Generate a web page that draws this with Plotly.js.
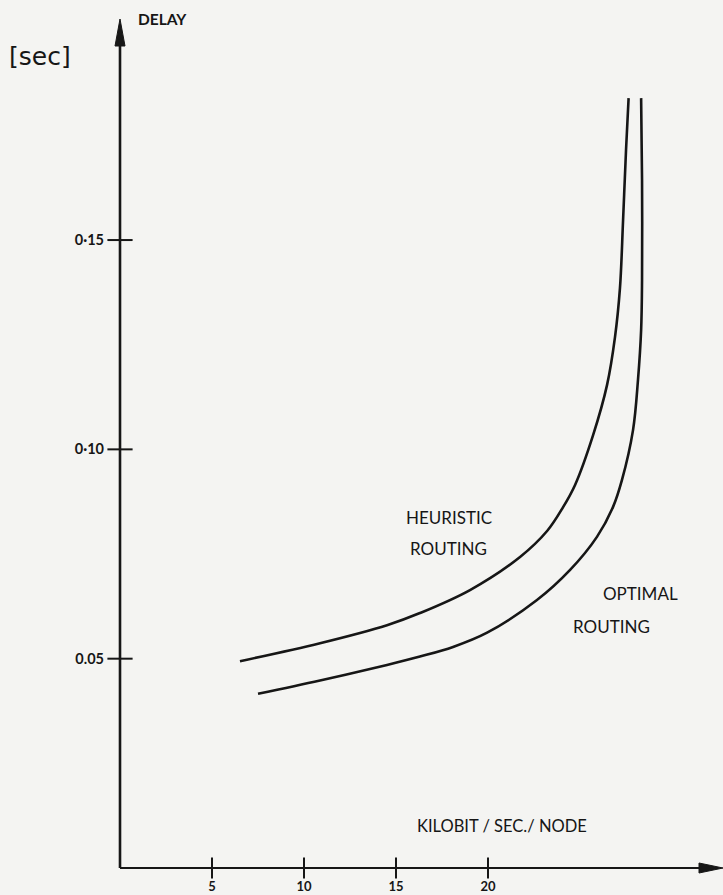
<!DOCTYPE html>
<html>
<head>
<meta charset="utf-8">
<script src="https://cdn.plot.ly/plotly-3.0.1.min.js"></script>
<style>
  html, body { margin: 0; padding: 0; background: #f4f4f2; }
  #chart { width: 723px; height: 895px; }
</style>
</head>
<body>
<div id="chart"></div>
<script>
// Heuristic routing curve (kilobit/sec/node, delay in sec)
const heuristicX = [6.52, 10.87, 14.51, 16.30, 19.02, 21.74, 23.21, 24.08, 24.73, 25.71, 26.47, 26.90, 27.17, 27.34, 27.50, 27.64];
const heuristicY = [0.0494, 0.0537, 0.0580, 0.0609, 0.0664, 0.0743, 0.0805, 0.0862, 0.0915, 0.1034, 0.1154, 0.1268, 0.1385, 0.1548, 0.1715, 0.1839];
// Optimal routing curve
const optimalX = [7.50, 10.87, 14.51, 16.30, 18.10, 19.95, 22.66, 24.46, 25.92, 26.79, 27.28, 27.88, 28.15, 28.32, 28.37, 28.37, 28.32];
const optimalY = [0.0416, 0.0448, 0.0485, 0.0505, 0.0528, 0.0562, 0.0640, 0.0712, 0.0791, 0.0862, 0.0927, 0.1046, 0.1166, 0.1285, 0.1404, 0.1643, 0.1839];
// Axis ticks
const xTickVals = [5, 10, 15, 20];
const xTickText = ["5", "10", "15", "20"];
const yTickVals = [0.05, 0.10, 0.15];
const yTickText = ["0.05", "0·10", "0·15"];

const ink = "#161616";
const xMax = 32.77, yMax = 0.2028;
const font = "Lato, 'Open Sans', sans-serif";

const traces = [
  { x: heuristicX, y: heuristicY, mode: "lines", line: { color: ink, width: 2.6, shape: "spline", smoothing: 1 }, hoverinfo: "skip" },
  { x: optimalX, y: optimalY, mode: "lines", line: { color: ink, width: 2.6, shape: "spline", smoothing: 1 }, hoverinfo: "skip" },
  { x: xTickVals, y: xTickVals.map(() => 0), mode: "markers", cliponaxis: false,
    marker: { symbol: "line-ns", size: 15, line: { color: ink, width: 2 } }, hoverinfo: "skip" },
  { x: yTickVals.map(() => 0), y: yTickVals, mode: "markers", cliponaxis: false,
    marker: { symbol: "line-ew", size: 18, line: { color: ink, width: 2 } }, hoverinfo: "skip" }
];

const layout = {
  width: 723, height: 895,
  margin: { l: 120, r: 0, t: 19, b: 27 },
  paper_bgcolor: "#f4f4f2", plot_bgcolor: "#f4f4f2",
  showlegend: false,
  font: { family: font, color: ink },
  xaxis: {
    range: [0, xMax], showgrid: false, zeroline: false, showline: false,
    tickmode: "array", tickvals: xTickVals, ticktext: xTickText, ticks: "",
    ticklabelstandoff: 9, tickfont: { size: 13, family: font, weight: "bold" }
  },
  yaxis: {
    range: [0, yMax], showgrid: false, zeroline: false, showline: false,
    tickmode: "array", tickvals: yTickVals, ticktext: yTickText, ticks: "",
    ticklabelstandoff: 15, tickfont: { size: 14.5, family: font, weight: "bold" }
  },
  shapes: [
    { type: "line", xref: "paper", yref: "paper", x0: 0, y0: 0, x1: 0.99, y1: 0, line: { color: ink, width: 2 } },
    { type: "line", xref: "paper", yref: "paper", x0: 0, y0: 0, x1: 0, y1: 0.98, line: { color: ink, width: 2.6 } },
    { type: "path", xref: "paper", yref: "paper", xsizemode: "pixel", ysizemode: "pixel",
      xanchor: 1, yanchor: 0, path: "M0,0 L-24,-5 L-24,5 Z", fillcolor: ink, line: { color: ink, width: 1 } },
    { type: "path", xref: "paper", yref: "paper", xsizemode: "pixel", ysizemode: "pixel",
      xanchor: 0, yanchor: 1, path: "M0,0 L-5,-27 L5,-27 Z", fillcolor: ink, line: { color: ink, width: 1 } }
  ],
  annotations: [
    { xref: "paper", yref: "paper", x: 0.0697, y: 1.0, text: "DELAY", showarrow: false,
      font: { size: 15.5, family: font, weight: "bold" }, xanchor: "center", yanchor: "middle" },
    { xref: "paper", yref: "paper", x: -0.1327, y: 0.956, text: "[sec]", showarrow: false,
      font: { size: 25, family: "'DejaVu Sans', sans-serif" }, xanchor: "center", yanchor: "middle" },
    { xref: "paper", yref: "paper", x: 0.6335, y: 0.0495, text: "KILOBIT / SEC./ NODE", showarrow: false,
      font: { size: 16.5, family: font }, xanchor: "center", yanchor: "middle" },
    { xref: "paper", yref: "paper", x: 0.5456, y: 0.4134, text: "HEURISTIC", showarrow: false,
      font: { size: 17, family: font }, xanchor: "center", yanchor: "middle" },
    { xref: "paper", yref: "paper", x: 0.544, y: 0.3769, text: "ROUTING", showarrow: false,
      font: { size: 17, family: font }, xanchor: "center", yanchor: "middle" },
    { xref: "paper", yref: "paper", x: 0.8624, y: 0.3239, text: "OPTIMAL", showarrow: false,
      font: { size: 17, family: font }, xanchor: "center", yanchor: "middle" },
    { xref: "paper", yref: "paper", x: 0.8159, y: 0.2850, text: "ROUTING", showarrow: false,
      font: { size: 17, family: font }, xanchor: "center", yanchor: "middle" }
  ]
};

Plotly.newPlot("chart", traces, layout, { displayModeBar: false, staticPlot: true });
</script>
</body>
</html>
